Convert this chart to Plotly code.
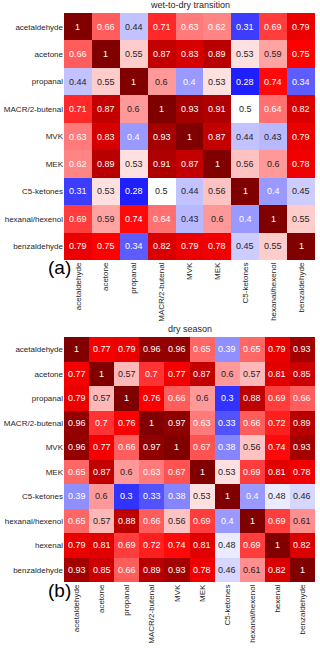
import plotly.graph_objects as go

labels_a = ["acetaldehyde", "acetone", "propanal", "MACR/2-butenal", "MVK", "MEK",
            "C5-ketones", "hexanal/hexenol", "benzaldehyde"]
corr_a = [
    [1, 0.66, 0.44, 0.71, 0.63, 0.62, 0.31, 0.69, 0.79],
    [0.66, 1, 0.55, 0.87, 0.83, 0.89, 0.53, 0.59, 0.75],
    [0.44, 0.55, 1, 0.6, 0.4, 0.53, 0.28, 0.74, 0.34],
    [0.71, 0.87, 0.6, 1, 0.93, 0.91, 0.5, 0.64, 0.82],
    [0.63, 0.83, 0.4, 0.93, 1, 0.87, 0.44, 0.43, 0.79],
    [0.62, 0.89, 0.53, 0.91, 0.87, 1, 0.56, 0.6, 0.78],
    [0.31, 0.53, 0.28, 0.5, 0.44, 0.56, 1, 0.4, 0.45],
    [0.69, 0.59, 0.74, 0.64, 0.43, 0.6, 0.4, 1, 0.55],
    [0.79, 0.75, 0.34, 0.82, 0.79, 0.78, 0.45, 0.55, 1],
]

labels_b = ["acetaldehyde", "acetone", "propanal", "MACR/2-butenal", "MVK", "MEK",
            "C5-ketones", "hexanal/hexenol", "hexenal", "benzaldehyde"]
corr_b = [
    [1, 0.77, 0.79, 0.96, 0.96, 0.65, 0.39, 0.65, 0.79, 0.93],
    [0.77, 1, 0.57, 0.7, 0.77, 0.87, 0.6, 0.57, 0.81, 0.85],
    [0.79, 0.57, 1, 0.76, 0.66, 0.6, 0.3, 0.88, 0.69, 0.66],
    [0.96, 0.7, 0.76, 1, 0.97, 0.63, 0.33, 0.66, 0.72, 0.89],
    [0.96, 0.77, 0.66, 0.97, 1, 0.67, 0.38, 0.56, 0.74, 0.93],
    [0.65, 0.87, 0.6, 0.63, 0.67, 1, 0.53, 0.69, 0.81, 0.78],
    [0.39, 0.6, 0.3, 0.33, 0.38, 0.53, 1, 0.4, 0.48, 0.46],
    [0.65, 0.57, 0.88, 0.66, 0.56, 0.69, 0.4, 1, 0.69, 0.61],
    [0.79, 0.81, 0.69, 0.72, 0.74, 0.81, 0.48, 0.69, 1, 0.82],
    [0.93, 0.85, 0.66, 0.89, 0.93, 0.78, 0.46, 0.61, 0.82, 1],
]

titles = ["wet-to-dry transition", "dry season"]
panel_tags = ["(a)", "(b)"]

# matplotlib "seismic"
seismic = [[0, "rgb(0,0,77)"], [0.25, "rgb(0,0,255)"], [0.5, "rgb(255,255,255)"],
           [0.75, "rgb(255,0,0)"], [1, "rgb(128,0,0)"]]

FONT = "Liberation Sans, Arial, sans-serif"
DARK = "#262626"

fig = go.Figure()

# pixel boxes (top, bottom) of each heatmap
boxes = [(13, 260), (337, 582)]
H = 648
W = 320
x_dom = [64 / W, 315 / W]

annotations = []
for i, (labels, corr) in enumerate([(labels_a, corr_a), (labels_b, corr_b)]):
    xa = "x" if i == 0 else "x2"
    ya = "y" if i == 0 else "y2"
    fig.add_trace(go.Heatmap(
        z=corr, x=labels, y=labels, colorscale=seismic, zmin=0, zmax=1,
        showscale=False, xaxis=xa, yaxis=ya,
        hovertemplate="%{y} / %{x}: %{z}<extra></extra>",
    ))
    # dark text on pale cells, white on saturated ones
    for r, row in enumerate(corr):
        for c, v in enumerate(row):
            col = DARK if 0.41 < v < 0.615 else "white"
            annotations.append(dict(
                x=labels[c], y=labels[r], xref=xa, yref=ya, text=f"{v:.2g}",
                showarrow=False, font=dict(size=9, color=col, family=FONT)))
    top, bot = boxes[i]
    dom = [(H - bot) / H, (H - top) / H]
    sfx = "" if i == 0 else "2"
    fig.layout["xaxis" + sfx] = dict(
        domain=x_dom, anchor=ya, tickangle=-90, ticks="", showgrid=False,
        zeroline=False, tickfont=dict(size=8, color=DARK, family=FONT))
    fig.layout["yaxis" + sfx] = dict(
        domain=dom, anchor=xa, autorange="reversed", ticks="", showgrid=False,
        zeroline=False, tickfont=dict(size=8, color=DARK, family=FONT))
    annotations.append(dict(
        x=sum(x_dom) / 2, y=(H - top + 1) / H, xref="paper", yref="paper",
        text=titles[i], showarrow=False, yanchor="bottom",
        font=dict(size=9, color=DARK, family=FONT)))
    annotations.append(dict(
        x=46 / W, y=(H - bot - 8) / H, xref="paper", yref="paper",
        text=panel_tags[i], showarrow=False, yanchor="middle",
        font=dict(size=19, color="black", family=FONT)))

fig.update_layout(
    width=W, height=H, margin=dict(l=0, r=0, t=0, b=0),
    plot_bgcolor="white", paper_bgcolor="white",
    annotations=annotations,
)

fig.write_html("out.html", config={"displayModeBar": False},
               post_script="document.body.style.margin='0';")
